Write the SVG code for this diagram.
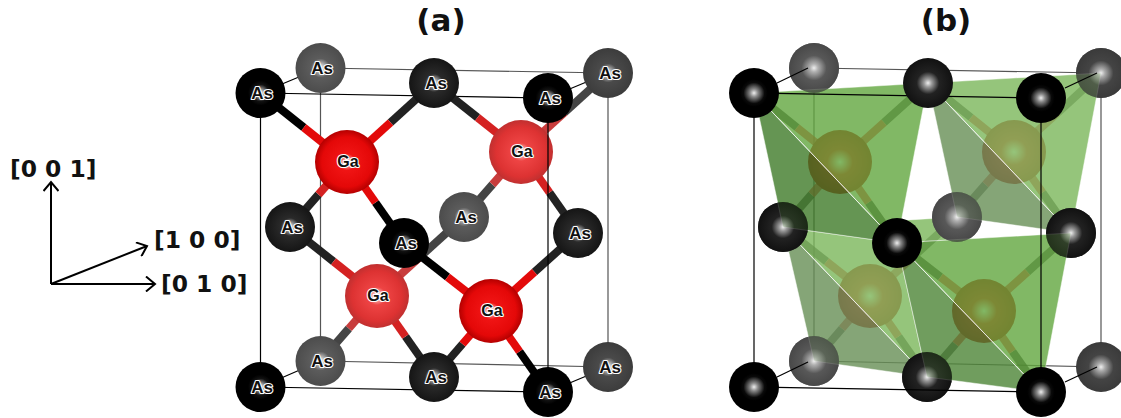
<svg xmlns="http://www.w3.org/2000/svg" width="1121" height="418" viewBox="0 0 1121 418">
<style>
.t{font:bold 31px "DejaVu Sans",sans-serif;fill:#111;text-anchor:middle}
.ax{font:bold 23.4px "DejaVu Sans",sans-serif;fill:#111}
.axl{fill:none;stroke:#000;stroke-width:2;marker-end:url(#oa)}
.cf{stroke:#000;stroke-width:1.2;fill:none}
.cb{stroke:#555;stroke-width:1.2;fill:none}
.b{fill:none;stroke-width:8}
.k0{stroke:#000}.k1{stroke:#222}.k2{stroke:#444}
.r0{stroke:#e30a0a}.r1{stroke:#d42222}.r2{stroke:#c83c3c}
.l{font:bold 17px "Liberation Sans",Arial,sans-serif;fill:#111;stroke:#fff;stroke-width:2.2px;paint-order:stroke;stroke-linejoin:round;text-anchor:middle}
.g{font-size:16px}
.s0{fill:url(#s0)}.s1{fill:url(#s1)}.s2{fill:url(#s2)}.s3{fill:url(#s3)}
.p0{fill:url(#p0)}.p1{fill:url(#p1)}
.d0{fill:url(#d0)}.d1{fill:url(#d1)}.d2{fill:url(#d2)}.d3{fill:url(#d3)}
.h0{fill:url(#h0)}.h1{fill:url(#h1)}
.v{opacity:.72}
.e{stroke:#fff;stroke-opacity:.45;stroke-width:1;stroke-linejoin:round}
.dg{stroke:#fff;stroke-opacity:.65;stroke-width:1;fill:none}
.fa{fill:#62a63f;fill-opacity:.8}
.fb{fill:#3f7a28;fill-opacity:.8}
.fc{fill:#7ab75a;fill-opacity:.8}
.fd{fill:#668f55;fill-opacity:.8}
.ff{fill:#4c8436;fill-opacity:.8}
</style>
<defs>
<marker id="oa" viewBox="0 0 16 16" refX="14" refY="8" markerWidth="16" markerHeight="16" markerUnits="userSpaceOnUse" orient="auto"><path d="M5 0.500 L14 8 L5 15.500" fill="none" stroke="#000" stroke-width="2"/></marker>
<radialGradient id="s0"><stop offset="0" stop-color="#fff"/><stop offset=".34" stop-color="#111"/><stop offset=".5" stop-color="#000"/></radialGradient>
<radialGradient id="s1"><stop offset="0" stop-color="#fff"/><stop offset=".36" stop-color="#2a2a2a"/><stop offset="1" stop-color="#151515"/></radialGradient>
<radialGradient id="s2"><stop offset="0" stop-color="#fff"/><stop offset=".38" stop-color="#4a4a4a"/><stop offset="1" stop-color="#3c3c3c"/></radialGradient>
<radialGradient id="s3"><stop offset="0" stop-color="#fff"/><stop offset=".38" stop-color="#5c5c5c"/><stop offset="1" stop-color="#4c4c4c"/></radialGradient>
<radialGradient id="p0"><stop offset="0" stop-color="#fff"/><stop offset=".26" stop-color="#f01414"/><stop offset=".78" stop-color="#e40808"/><stop offset="1" stop-color="#b40000"/></radialGradient>
<radialGradient id="p1"><stop offset="0" stop-color="#fff"/><stop offset=".28" stop-color="#ee4444"/><stop offset=".78" stop-color="#dd3232"/><stop offset="1" stop-color="#c03030"/></radialGradient>
<radialGradient id="d0"><stop offset="0" stop-color="#eee"/><stop offset=".16" stop-color="#888"/><stop offset=".42" stop-color="#0a0a0a"/><stop offset=".55" stop-color="#000"/></radialGradient>
<radialGradient id="d1"><stop offset="0" stop-color="#eee"/><stop offset=".16" stop-color="#999"/><stop offset=".45" stop-color="#222"/><stop offset="1" stop-color="#111"/></radialGradient>
<radialGradient id="d2"><stop offset="0" stop-color="#eee"/><stop offset=".16" stop-color="#aaa"/><stop offset=".5" stop-color="#444"/><stop offset="1" stop-color="#3a3a3a"/></radialGradient>
<radialGradient id="d3"><stop offset="0" stop-color="#eee"/><stop offset=".16" stop-color="#b0b0b0"/><stop offset=".5" stop-color="#585858"/><stop offset="1" stop-color="#484848"/></radialGradient>
<radialGradient id="h0"><stop offset="0" stop-color="#fff"/><stop offset=".4" stop-color="#e81212"/><stop offset="1" stop-color="#b40000"/></radialGradient>
<radialGradient id="h1"><stop offset="0" stop-color="#fff"/><stop offset=".4" stop-color="#e84040"/><stop offset="1" stop-color="#b82828"/></radialGradient>
</defs>

<text class="t" x="441" y="31">(a)</text>
<text class="t" x="946" y="31">(b)</text>

<g id="axes">
<path class="axl" d="M51 284V182"/>
<path class="axl" d="M51 284L147 246"/>
<path class="axl" d="M51 284H155"/>
<text class="ax" x="10" y="177">[0 0 1]</text>
<text class="ax" x="154" y="248">[1 0 0]</text>
<text class="ax" x="161" y="292">[0 1 0]</text>
</g>

<!-- panel a -->
<g id="a-cell-back">
<path class="cb" d="M320.500 68L608 73V367L320.500 361Z"/>
<path class="cf" d="M260.500 93L320.500 68M548 98L608 73M260.500 387L320.500 361M548 392L608 367"/>
<path class="cf" d="M260.500 93L548 98M260.500 387L548 392M260.500 93V387"/>
</g>
<g id="a-bonds">
<path class="b k2" d="M608 73L564.500 112.500"/><path class="b r2" d="M564.500 112.500L521 152"/>
<path class="b k2" d="M464 217L492.500 184.500"/><path class="b r2" d="M492.500 184.500L521 152"/>
<path class="b k2" d="M464 217L420.500 256.500"/><path class="b r2" d="M420.500 256.500L377 296"/>
<path class="b k2" d="M320.500 361L348.800 328.500"/><path class="b r2" d="M348.800 328.500L377 296"/>
<path class="b k1" d="M434 83L390.500 122.500"/><path class="b r0" d="M390.500 122.500L347 162"/>
<path class="b k1" d="M434 83L477.500 117.500"/><path class="b r1" d="M477.500 117.500L521 152"/>
<path class="b k1" d="M290 227L318.500 194.500"/><path class="b r1" d="M318.500 194.500L347 162"/>
<path class="b k1" d="M290 227L333.500 261.500"/><path class="b r1" d="M333.500 261.500L377 296"/>
<path class="b k1" d="M578 233L549.500 192.500"/><path class="b r1" d="M549.500 192.500L521 152"/>
<path class="b k1" d="M434 377L405.500 336.500"/><path class="b r1" d="M405.500 336.500L377 296"/>
<path class="b k1" d="M434 377L462.500 344"/><path class="b r0" d="M462.500 344L491 311"/>
<path class="b k1" d="M578 233L534.500 272"/><path class="b r0" d="M534.500 272L491 311"/>
<path class="b k0" d="M260.500 93L303.800 127.500"/><path class="b r0" d="M303.800 127.500L347 162"/>
<path class="b k0" d="M404 243L375.500 202.500"/><path class="b r0" d="M375.500 202.500L347 162"/>
<path class="b k0" d="M404 243L447.500 277"/><path class="b r0" d="M447.500 277L491 311"/>
<path class="b k0" d="M548 392L519.500 351.500"/><path class="b r0" d="M519.500 351.500L491 311"/>
</g>
<g id="a-as-back1"><circle class="s3" cx="320.500" cy="68" r="25"/><text class="l" x="322" y="74">As</text></g>
<g id="a-as-back2"><circle class="s2" cx="608" cy="73" r="25"/><text class="l" x="610" y="79">As</text></g>
<g id="a-as-back3"><circle class="s3" cx="320.500" cy="361" r="25"/><text class="l" x="322" y="367">As</text></g>
<g id="a-as-back4"><circle class="s2" cx="608" cy="367" r="25"/><text class="l" x="610" y="373">As</text></g>
<g id="a-as-back5"><circle class="s3" cx="464" cy="217" r="25"/><text class="l" x="466" y="223">As</text></g>
<g id="a-ga2"><circle class="p1" cx="521" cy="152" r="32"/><text class="l g" x="522" y="157">Ga</text></g>
<g id="a-ga3"><circle class="p1" cx="377" cy="296" r="32"/><text class="l g" x="378" y="301">Ga</text></g>
<g id="a-ga1"><circle class="p0" cx="347" cy="162" r="32"/><text class="l g" x="348" y="167">Ga</text></g>
<g id="a-ga4"><circle class="p0" cx="491" cy="311" r="32"/><text class="l g" x="492" y="316">Ga</text></g>
<path class="cf" d="M548 98V392"/>
<g id="a-as-top"><circle class="s1" cx="434" cy="83" r="25"/><text class="l" x="436" y="89">As</text></g>
<g id="a-as-bottom"><circle class="s1" cx="434" cy="377" r="25"/><text class="l" x="436" y="383">As</text></g>
<g id="a-as-left"><circle class="s1" cx="290" cy="227" r="25"/><text class="l" x="292" y="233">As</text></g>
<g id="a-as-right"><circle class="s1" cx="578" cy="233" r="25"/><text class="l" x="580" y="239">As</text></g>
<g id="a-as-front"><circle class="s0" cx="404" cy="243" r="25"/><text class="l" x="406" y="249">As</text></g>
<g id="a-as-c1"><circle class="s0" cx="260.500" cy="93" r="25"/><text class="l" x="262" y="99">As</text></g>
<g id="a-as-c2"><circle class="s0" cx="548" cy="98" r="25"/><text class="l" x="550" y="104">As</text></g>
<g id="a-as-c3"><circle class="s0" cx="260.500" cy="387" r="25"/><text class="l" x="262" y="393">As</text></g>
<g id="a-as-c4"><circle class="s0" cx="548" cy="392" r="25"/><text class="l" x="550" y="398">As</text></g>

<!-- panel b -->
<g id="b-cell-back">
<path class="cb" d="M814 68L1101 73V367L814 361Z"/>
<path class="cf" d="M754 93V387"/>
</g>
<g id="b-bonds" opacity=".72">
<path class="b k2" d="M1101 73L1058 112.500"/><path class="b r2" d="M1058 112.500L1014 152"/>
<path class="b k2" d="M957 217L985.500 184.500"/><path class="b r2" d="M985.500 184.500L1014 152"/>
<path class="b k2" d="M957 217L913.500 256.500"/><path class="b r2" d="M913.500 256.500L870 296"/>
<path class="b k2" d="M814 361L842 328.500"/><path class="b r2" d="M842 328.500L870 296"/>
<path class="b k1" d="M928 83L884 122.500"/><path class="b r0" d="M884 122.500L840 162"/>
<path class="b k1" d="M928 83L971 117.500"/><path class="b r1" d="M971 117.500L1014 152"/>
<path class="b k1" d="M783 227L811.500 194.500"/><path class="b r1" d="M811.500 194.500L840 162"/>
<path class="b k1" d="M783 227L826.500 261.500"/><path class="b r1" d="M826.500 261.500L870 296"/>
<path class="b k1" d="M1071 233L1042.500 192.500"/><path class="b r1" d="M1042.500 192.500L1014 152"/>
<path class="b k1" d="M927 377L898.500 336.500"/><path class="b r1" d="M898.500 336.500L870 296"/>
<path class="b k1" d="M927 377L955.500 344"/><path class="b r0" d="M955.500 344L984 311"/>
<path class="b k1" d="M1071 233L1027.500 272"/><path class="b r0" d="M1027.500 272L984 311"/>
<path class="b k0" d="M754 93L797 127.500"/><path class="b r0" d="M797 127.500L840 162"/>
<path class="b k0" d="M897 243L868.500 202.500"/><path class="b r0" d="M868.500 202.500L840 162"/>
<path class="b k0" d="M897 243L940.500 277"/><path class="b r0" d="M940.500 277L984 311"/>
<path class="b k0" d="M1041 392L1012.500 351.500"/><path class="b r0" d="M1012.500 351.500L984 311"/>
</g>
<g id="b-as-back1"><circle class="d3" cx="814" cy="68" r="25"/></g>
<g id="b-as-back2"><circle class="d2" cx="1101" cy="73" r="25"/></g>
<g id="b-as-back3"><circle class="d3" cx="814" cy="361" r="25"/></g>
<g id="b-as-back4"><circle class="d2" cx="1101" cy="367" r="25"/></g>
<g id="b-ga2"><circle class="h1" cx="1014" cy="152" r="32"/></g>
<g id="b-ga3"><circle class="h1" cx="870" cy="296" r="32"/></g>
<g id="b-ga1"><circle class="h0" cx="840" cy="162" r="32"/></g>
<g id="b-ga4"><circle class="h0" cx="984" cy="311" r="32"/></g>
<g id="b-tetra3">
<polygon class="fc e" points="783,227 897,243 927,377"/>
<polygon class="fc e" points="897,243 901,220.400 957,217 952.500,239.800"/>
<polygon class="fd e" points="783,227 814,361 927,377"/>
<path class="dg" d="M783 227L927 377"/>
</g>
<g id="b-as-left"><circle class="d1" cx="783" cy="227" r="25"/></g>
<g id="b-as-back5"><circle class="d3" cx="957" cy="217" r="25"/></g>
<g id="b-as-bottom"><circle class="d1" cx="927" cy="377" r="25"/></g>
<g id="b-tetra1">
<polygon class="fa e" points="754,93 928,83 897,243"/>
<polygon class="fb e" points="754,93 783,227 897,243"/>
<path class="dg" d="M754 93L897 243"/>
</g>
<g id="b-tetra2">
<polygon class="fc e" points="928,83 1101,73 1071,233"/>
<polygon class="fd e" points="928,83 957,217 1071,233"/>
<path class="dg" d="M928 83L1071 233"/>
</g>
<g id="b-as-right"><circle class="d1" cx="1071" cy="233" r="25"/></g>
<g id="b-tetra4">
<polygon class="fa e" points="897,243 1071,233 1041,392"/>
<polygon class="ff e" points="897,243 927,377 1041,392"/>
<path class="dg" d="M897 243L1041 392"/>
</g>
<g id="b-veils">
<circle class="d1 v" cx="783" cy="227" r="25"/>
<circle class="d3 v" cx="957" cy="217" r="25"/>
<circle class="d1 v" cx="927" cy="377" r="25"/>
<circle class="d1 v" cx="1071" cy="233" r="25"/>
<circle class="d3 v" cx="814" cy="361" r="25"/>
<circle class="d3 v" cx="814" cy="68" r="25"/>
<circle class="d2 v" cx="1101" cy="73" r="25"/>
</g>
<g id="b-cell-front">
<path class="cf" d="M754 93L1041 98V392"/>
<path class="cf" d="M754 387L1041 392"/>
</g>
<g id="b-as-top"><circle class="d1" cx="928" cy="83" r="25"/></g>
<g id="b-as-front"><circle class="d0" cx="897" cy="243" r="25"/></g>
<g id="b-as-c1"><circle class="d0" cx="754" cy="93" r="25"/></g>
<g id="b-as-c2"><circle class="d0" cx="1041" cy="98" r="25"/></g>
<g id="b-as-c3"><circle class="d0" cx="754" cy="387" r="25"/></g>
<g id="b-as-c4"><circle class="d0" cx="1041" cy="392" r="25"/></g>
<path id="b-cell-links" class="cf" d="M777 83L808 68M1065 88L1097 73M777 377L808 362M1065 382L1097 367"/>
</svg>
